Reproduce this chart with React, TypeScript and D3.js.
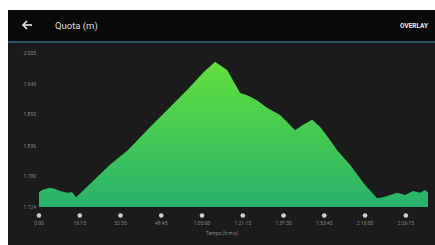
import React, { useEffect, useRef } from "react";
import * as d3 from "d3";

// elapsed time in minutes, elevation in metres
const times = [0, 1.2, 4.4, 6.4, 8.4, 11.2, 13.2, 14.8, 20.3, 28.3, 35.5, 44.3, 52.2, 60.2, 65.4, 70.2, 75.0, 80.2, 83.0, 86.9, 90.9, 96.1, 98.9, 102.1, 105.3, 108.9, 112.1, 116.1, 118.8, 124.0, 130.0, 134.8, 137.2, 142.8, 146.0, 149.2, 151.9, 153.9, 155.1];
const elevations = [1751, 1755, 1759, 1757, 1753, 1750, 1751, 1742, 1766, 1801, 1828, 1870, 1906, 1943, 1969, 1989, 1974, 1932, 1928, 1919, 1905, 1892, 1879, 1864, 1874, 1883, 1870, 1846, 1828, 1801, 1764, 1740, 1742, 1750, 1746, 1753, 1750, 1755, 1751];

const yTicks = [1724, 1780, 1836, 1893, 1949, 2005];
const yTickLabels = ["1.724", "1.780", "1.836", "1.893", "1.949", "2.005"];
const xTicks = [0, 16.25, 32.5, 48.75, 65, 81.25, 97.5, 113.75, 130, 146.25];
const xTickLabels = ["0:00", "16:15", "32:30", "48:45", "1:05:00", "1:21:15", "1:37:30", "1:53:45", "2:10:00", "2:26:15"];

const W = 435;
const H = 245;

const App = () => {
  const svgRef = useRef<SVGSVGElement>(null);

  useEffect(() => {
    const svg = d3.select(svgRef.current);
    svg.selectAll("*").remove();

    const x = d3.scaleLinear().domain([0, 155.1]).range([39, 428]);
    const y = d3.scaleLinear().domain([1724, 2005]).range([207, 53]);

    // panel backgrounds
    svg.append("rect").attr("width", W).attr("height", H).attr("fill", "#ffffff");
    svg.append("rect").attr("x", 8).attr("y", 10).attr("width", W - 8).attr("height", H - 10).attr("fill", "#1b1b1b");
    svg.append("rect").attr("x", 8).attr("y", 10).attr("width", W - 8).attr("height", 31).attr("fill", "#0a0a0a");
    svg.append("rect").attr("x", 8).attr("y", 41).attr("width", W - 8).attr("height", 2).attr("fill", "#2b5566");

    // header
    const arrow = svg.append("g").attr("stroke", "#e8e8e8").attr("stroke-width", 1.6).attr("fill", "none");
    arrow.append("line").attr("x1", 23).attr("y1", 25).attr("x2", 32).attr("y2", 25);
    arrow.append("polyline").attr("points", "27,21 23,25 27,29");
    svg.append("text").attr("x", 55).attr("y", 29).attr("fill", "#dddddd")
      .attr("font-family", "Roboto").attr("font-size", 9.5).text("Quota (m)");
    svg.append("text").attr("x", 428).attr("y", 28).attr("fill", "#e6e6e6")
      .attr("text-anchor", "end").attr("font-family", "Roboto").attr("font-weight", "bold")
      .attr("font-size", 6.5).text("OVERLAY");

    // gradient
    const grad = svg.append("defs").append("linearGradient").attr("id", "fillGrad")
      .attr("gradientUnits", "userSpaceOnUse").attr("x1", 0).attr("x2", 0).attr("y1", 55).attr("y2", 207);
    grad.append("stop").attr("offset", "0%").attr("stop-color", "#64e33a");
    grad.append("stop").attr("offset", "100%").attr("stop-color", "#28b26c");

    const data = times.map((t, i) => ({ t, e: elevations[i] }));
    const area = d3.area<{ t: number; e: number }>()
      .x((d) => x(d.t))
      .y0(y(1724))
      .y1((d) => y(d.e));
    svg.append("path").datum(data).attr("d", area).attr("fill", "url(#fillGrad)");

    // y labels
    svg.append("g").selectAll("text").data(yTicks).enter().append("text")
      .attr("x", 36).attr("y", (d) => y(d) + 2)
      .attr("text-anchor", "end").attr("fill", "#858585")
      .attr("font-family", "Roboto").attr("font-size", 5)
      .text((d, i) => yTickLabels[i]);

    // x ticks
    const xt = svg.append("g");
    xt.selectAll("circle").data(xTicks).enter().append("circle")
      .attr("cx", (d) => x(d)).attr("cy", 215.5).attr("r", 2.3).attr("fill", "#d0d0d0");
    xt.selectAll("text").data(xTicks).enter().append("text")
      .attr("x", (d) => x(d)).attr("y", 224.5)
      .attr("text-anchor", "middle").attr("fill", "#858585")
      .attr("font-family", "Roboto").attr("font-size", 5)
      .text((d, i) => xTickLabels[i]);
    svg.append("text").attr("x", 222).attr("y", 235).attr("text-anchor", "middle")
      .attr("fill", "#858585").attr("font-family", "Roboto").attr("font-size", 5)
      .text("Tempo (h:m:s)");
  }, []);

  return <svg ref={svgRef} width={W} height={H} style={{ position: "absolute", left: 0, top: 0 }} />;
};

export default App;
